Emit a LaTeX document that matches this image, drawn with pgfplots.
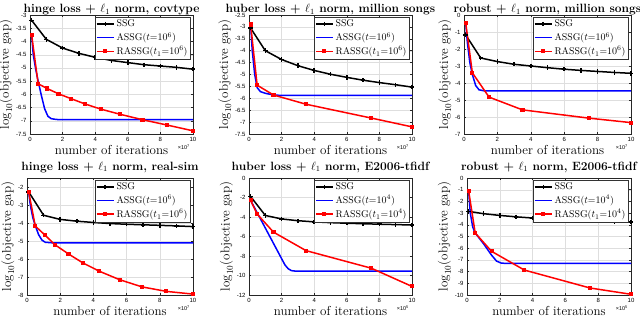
\documentclass[border=0pt]{standalone}
\usepackage{fontspec}
\usepackage{pgfplots}
\pgfplotsset{compat=1.18}
\newfontfamily\tickfont{Liberation Sans}
\pgfplotsset{
  mystyle/.style={
    scale only axis, anchor=south west,
    xmin=0, xmax=10, xtick={0,2,...,10},
    grid=major, major grid style={black!13, line width=0.3pt},
    axis line style={black!85, line width=0.4pt},
    tick style={black!85, line width=0.4pt}, tick align=inside, major tick length=2pt,
    tick label style={font=\fontsize{6}{7}\tickfont},
    /pgf/number format/assume math mode=true,
    xlabel={number of iterations}, ylabel={$\log_{10}$(objective gap)},
    label style={font=\fontsize{13}{14}\selectfont},
    xlabel style={yshift=3pt},
    ylabel style={yshift=-3pt},
    title style={font=\fontsize{12}{13}\selectfont\bfseries, yshift=-4pt},
    legend style={font=\fontsize{9.8}{10.5}\selectfont, at={(rel axis cs:0.985,0.985)}, anchor=north east, draw=black!80, fill=white, inner sep=0.8pt, row sep=0.3pt},
    legend cell align=left,
  },
  toprow/.style={title style={yshift=-5.5pt}},
  xsc/.style={after end axis/.append code={\node[font=\fontsize{5.5}{6}\tickfont, anchor=north east, inner sep=0pt] at (rel axis cs:1,0) [yshift=-11pt, xshift=-3pt] {\texttimes10\textsuperscript{#1}};}},
}
\begin{document}
\begin{tikzpicture}
\useasboundingbox (0,0) rectangle (640pt,318pt);
% ---------- 1: hinge covtype
\begin{axis}[mystyle, toprow, xsc=7, at={(30pt,184pt)}, width=163pt, height=119pt,
  ymin=-7.5, ymax=-3, ytick={-7.5,-7,...,-3},
  title={hinge loss + $\ell_1$ norm, covtype}]
\addplot[black, line width=1.5pt, mark=+, mark size=2.2pt] coordinates {(0.1,-3.2) (1,-3.92) (2,-4.25) (3,-4.45) (4,-4.6) (5,-4.72) (6,-4.8) (7,-4.88) (8,-4.93) (9,-4.98) (10,-5.05)};
\addlegendentry{SSG}
\addplot[blue, line width=1.5pt, mark=none] coordinates {(0.1,-3.75) (0.2,-4.5) (0.35,-5.05) (0.5,-5.5) (0.7,-6.05) (0.9,-6.55) (1.1,-6.83) (1.3,-6.92) (1.6,-6.95) (2,-6.96) (10,-6.96)};
\addlegendentry{ASSG($t$=$10^6$)}
\addplot[red, line width=1.5pt, mark=square*, mark size=1.3pt] coordinates {(0.1,-3.75) (0.5,-5.6) (1.05,-5.78) (1.75,-5.98) (2.5,-6.16) (3.4,-6.37) (4.35,-6.56) (5.5,-6.75) (6.9,-6.96) (8.4,-7.16) (10,-7.38)};
\addlegendentry{RASSG($t_1$=$10^6$)}
\end{axis}
% ---------- 2: huber million songs
\begin{axis}[mystyle, toprow, xsc=7, at={(249pt,184pt)}, width=163pt, height=119pt,
  ymin=-7.5, ymax=-2.5, ytick={-7.5,-7,...,-2.5},
  title={huber loss + $\ell_1$ norm, million songs}]
\addplot[black, line width=1.5pt, mark=+, mark size=2.2pt] coordinates {(0.1,-3.05) (1,-4.0) (2,-4.37) (3,-4.63) (4,-4.83) (5,-4.99) (6,-5.12) (7,-5.24) (8,-5.34) (9,-5.43) (10,-5.53)};
\addlegendentry{SSG}
\addplot[blue, line width=1.5pt, mark=none] coordinates {(0.1,-2.9) (0.2,-4.0) (0.35,-5.0) (0.5,-5.55) (0.7,-5.72) (1,-5.79) (1.5,-5.86) (2,-5.88) (10,-5.88)};
\addlegendentry{ASSG($t$=$10^6$)}
\addplot[red, line width=1.5pt, mark=square*, mark size=1.3pt] coordinates {(0.1,-2.9) (0.5,-5.45) (1.5,-5.86) (3.5,-6.25) (7.5,-6.83) (10,-7.2)};
\addlegendentry{RASSG($t_1$=$10^6$)}
\end{axis}
% ---------- 3: robust million songs
\begin{axis}[mystyle, toprow, xsc=7, at={(464pt,184pt)}, width=167pt, height=119pt,
  ymin=-7, ymax=0, ytick={-7,-6,...,0},
  title={robust + $\ell_1$ norm, million songs}]
\addplot[black, line width=1.5pt, mark=+, mark size=2.2pt] coordinates {(0.1,-1.17) (1,-2.53) (2,-2.74) (3,-2.9) (4,-3.0) (5,-3.1) (6,-3.19) (7,-3.26) (8,-3.32) (9,-3.38) (10,-3.43)};
\addlegendentry{SSG}
\addplot[blue, line width=1.5pt, mark=none] coordinates {(0.1,-0.45) (0.2,-1.6) (0.35,-2.8) (0.5,-3.5) (0.7,-4.15) (0.9,-4.4) (1.2,-4.46) (10,-4.46)};
\addlegendentry{ASSG($t$=$10^6$)}
\addplot[red, line width=1.5pt, mark=square*, mark size=1.3pt] coordinates {(0.1,-0.45) (0.5,-3.4) (1.5,-4.83) (3.5,-5.58) (7.5,-6.07) (10,-6.33)};
\addlegendentry{RASSG($t_1$=$10^6$)}
\end{axis}
% ---------- 4: hinge real-sim
\begin{axis}[mystyle, xsc=7, at={(27pt,23pt)}, width=166pt, height=117pt,
  ymin=-8, ymax=-1.5, ytick={-8,-7,...,-2},
  title={hinge loss + $\ell_1$ norm, real-sim}]
\addplot[black, line width=1.5pt, mark=+, mark size=2.2pt] coordinates {(0.1,-2.27) (1,-3.57) (2,-3.8) (3,-3.9) (4,-3.97) (5,-4.03) (6,-4.07) (7,-4.1) (8,-4.13) (9,-4.16) (10,-4.2)};
\addlegendentry{SSG}
\addplot[blue, line width=1.5pt, mark=none] coordinates {(0.1,-2.27) (0.2,-3.0) (0.35,-3.7) (0.5,-4.15) (0.7,-4.65) (0.9,-4.95) (1.1,-5.07) (1.5,-5.1) (10,-5.1)};
\addlegendentry{ASSG($t$=$10^6$)}
\addplot[red, line width=1.5pt, mark=square*, mark size=1.3pt] coordinates {(0.1,-2.27) (0.5,-4.17) (1.08,-4.67) (1.7,-5.22) (2.5,-5.72) (3.37,-6.22) (4.36,-6.68) (5.58,-7.15) (6.93,-7.55) (8.4,-7.8) (10,-7.95)};
\addlegendentry{RASSG($t_1$=$10^6$)}
\end{axis}
% ---------- 5: huber E2006
\begin{axis}[mystyle, xsc=5, at={(249pt,23pt)}, width=163pt, height=117pt,
  ymin=-12, ymax=0, ytick={-12,-10,...,0},
  title={huber loss + $\ell_1$ norm, E2006-tfidf}]
\addplot[black, line width=1.5pt, mark=+, mark size=2.2pt] coordinates {(0.1,-1.9) (1,-3.84) (2,-4.2) (3,-4.38) (4,-4.5) (5,-4.58) (6,-4.64) (7,-4.69) (8,-4.74) (9,-4.78) (10,-4.82)};
\addlegendentry{SSG}
\addplot[blue, line width=1.5pt, mark=none] coordinates {(0.1,-2.3) (2.2,-8.9) (2.4,-9.3) (2.6,-9.5) (2.9,-9.56) (10,-9.56)};
\addlegendentry{ASSG($t$=$10^4$)}
\addplot[red, line width=1.5pt, mark=square*, mark size=1.3pt] coordinates {(0.1,-2.3) (0.5,-3.7) (1.5,-5.55) (3.5,-7.45) (7.5,-9.25) (10,-11.12)};
\addlegendentry{RASSG($t_1$=$10^4$)}
\end{axis}
% ---------- 6: robust E2006
\begin{axis}[mystyle, xsc=5, at={(467pt,23pt)}, width=164pt, height=117pt,
  ymin=-10, ymax=0, ytick={-10,-9,...,0},
  title={robust + $\ell_1$ norm, E2006-tfidf}]
\addplot[black, line width=1.5pt, mark=+, mark size=2.2pt] coordinates {(0.1,-2.85) (1,-3.05) (2,-3.2) (3,-3.32) (4,-3.42) (5,-3.5) (6,-3.56) (7,-3.62) (8,-3.67) (9,-3.71) (10,-3.75)};
\addlegendentry{SSG}
\addplot[blue, line width=1.5pt, mark=none] coordinates {(0.1,-1.1) (0.2,-3.0) (0.35,-4.2) (0.5,-4.7) (1.0,-5.6) (1.5,-6.6) (1.8,-7.1) (2.1,-7.28) (2.5,-7.3) (10,-7.3)};
\addlegendentry{ASSG($t$=$10^4$)}
\addplot[red, line width=1.5pt, mark=square*, mark size=1.3pt] coordinates {(0.1,-1.1) (0.5,-4.7) (1.5,-6.27) (3.5,-7.87) (7.5,-9.4) (10,-9.94)};
\addlegendentry{RASSG($t_1$=$10^4$)}
\end{axis}
\end{tikzpicture}
\end{document}
